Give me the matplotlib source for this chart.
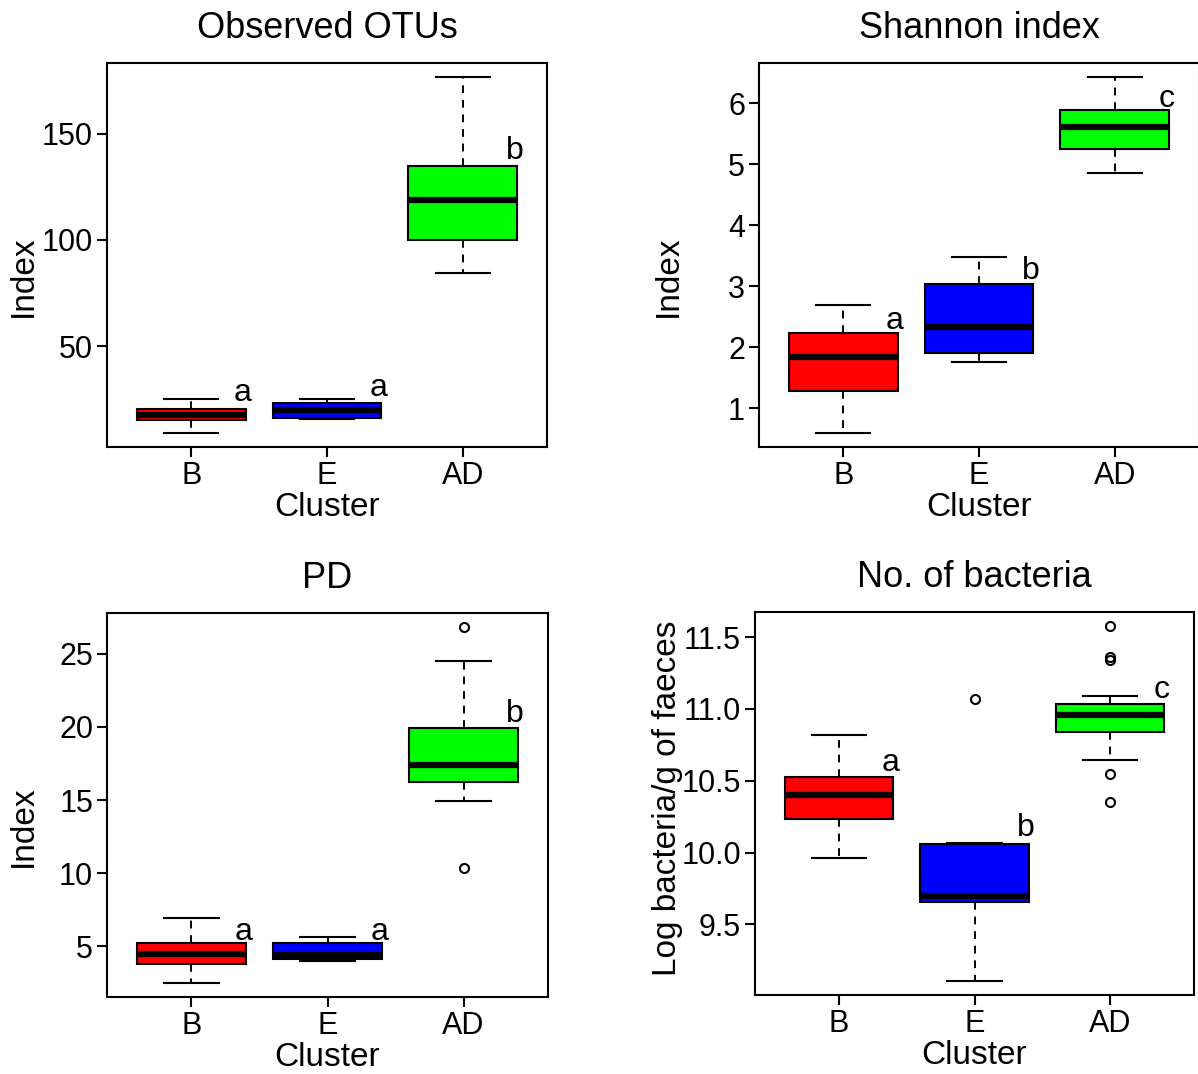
import numpy as np
import matplotlib
matplotlib.use("Agg")
import matplotlib.pyplot as plt
from matplotlib import font_manager

plt.rcParams['font.family'] = ['Liberation Sans', 'DejaVu Sans']

# letter font: narrow if we have it
names = set(f.name for f in font_manager.fontManager.ttflist)
letter_font = 'Liberation Sans Narrow' if 'Liberation Sans Narrow' in names else 'Liberation Sans'

clusters = ['B', 'E', 'AD']
colors = ['#FF0000', '#0000FF', '#00FF00']

# Observed OTUs (lo, q1, med, q3, hi per cluster)
otu_lo = [9.2, 15.5, 84.3]
otu_q1 = [15.2, 16.1, 100.0]
otu_med = [17.6, 19.9, 118.7]
otu_q3 = [20.2, 23.4, 134.8]
otu_hi = [24.9, 25.2, 176.6]
otu_fliers = [[], [], []]
otu_letters = ['a', 'a', 'b']
otu_letter_y = [27.8, 30.3, 142.0]

# Shannon index
sha_lo = [0.60, 1.76, 4.86]
sha_q1 = [1.28, 1.91, 5.26]
sha_med = [1.85, 2.34, 5.62]
sha_q3 = [2.23, 3.04, 5.89]
sha_hi = [2.70, 3.48, 6.43]
sha_fliers = [[], [], []]
sha_letters = ['a', 'b', 'c']
sha_letter_y = [2.44, 3.25, 6.08]

# PD
pd_lo = [2.52, 4.00, 14.9]
pd_q1 = [3.77, 4.11, 16.25]
pd_med = [4.50, 4.39, 17.4]
pd_q3 = [5.25, 5.25, 19.95]
pd_hi = [6.95, 5.68, 24.5]
pd_fliers = [[], [], [26.8, 10.34]]
pd_letters = ['a', 'a', 'b']
pd_letter_y = [6.0, 6.0, 20.9]

# No. of bacteria
bac_lo = [9.962, 9.107, 10.645]
bac_q1 = [10.234, 9.657, 10.842]
bac_med = [10.403, 9.700, 10.957]
bac_q3 = [10.525, 10.061, 11.036]
bac_hi = [10.819, 10.068, 11.091]
bac_fliers = [[], [11.07], [11.576, 11.361, 11.338, 10.546, 10.352]]
bac_letters = ['a', 'b', 'c']
bac_letter_y = [10.62, 10.17, 11.13]

panels = [
    dict(title='Observed OTUs', ylabel='Index', lo=otu_lo, q1=otu_q1, med=otu_med, q3=otu_q3, hi=otu_hi,
         fl=otu_fliers, let=otu_letters, ly=otu_letter_y, ticks=[50, 100, 150], fmt='%d',
         rect=[107, 63, 440, 384], ylab_x=-0.154, ylab_y=0.445),
    dict(title='Shannon index', ylabel='Index', lo=sha_lo, q1=sha_q1, med=sha_med, q3=sha_q3, hi=sha_hi,
         fl=sha_fliers, let=sha_letters, ly=sha_letter_y, ticks=[1, 2, 3, 4, 5, 6], fmt='%d',
         rect=[759, 63, 440, 384], ylab_x=-0.17, ylab_y=0.445),
    dict(title='PD', ylabel='Index', lo=pd_lo, q1=pd_q1, med=pd_med, q3=pd_q3, hi=pd_hi,
         fl=pd_fliers, let=pd_letters, ly=pd_letter_y, ticks=[5, 10, 15, 20, 25], fmt='%d',
         rect=[107, 613, 441, 384], ylab_x=-0.154, ylab_y=0.445),
    dict(title='No. of bacteria', ylabel='Log bacteria/g of faeces', lo=bac_lo, q1=bac_q1, med=bac_med,
         q3=bac_q3, hi=bac_hi, fl=bac_fliers, let=bac_letters, ly=bac_letter_y,
         ticks=[9.5, 10.0, 10.5, 11.0, 11.5], fmt='%.1f',
         rect=[755, 612, 439, 383], ylab_x=-0.165, ylab_y=0.515),
]

W, H = 1198, 1074
fig = plt.figure(figsize=(W / 100, H / 100), dpi=100)

for p in panels:
    x0, y0, w, h = p['rect']
    ax = fig.add_axes([x0 / W, 1 - (y0 + h) / H, w / W, h / H])
    stats = []
    for i in range(3):
        stats.append(dict(med=p['med'][i], q1=p['q1'][i], q3=p['q3'][i],
                          whislo=p['lo'][i], whishi=p['hi'][i], fliers=p['fl'][i]))
    bp = ax.bxp(stats, positions=[1, 2, 3], widths=0.8, capwidths=0.4, patch_artist=True,
                boxprops=dict(linewidth=1.5, edgecolor='black'),
                medianprops=dict(color='black', linewidth=4.5, solid_capstyle='butt'),
                whiskerprops=dict(color='black', linewidth=1.4, linestyle=(0, (4, 3.5))),
                capprops=dict(color='black', linewidth=1.5),
                flierprops=dict(marker='o', markerfacecolor='none', markeredgecolor='black',
                                markersize=6.5, markeredgewidth=1.5))
    for patch, c in zip(bp['boxes'], colors):
        patch.set_facecolor(c)

    # R style 4% padding
    vals = p['lo'] + p['hi'] + [v for f in p['fl'] for v in f]
    lo, hi = min(vals), max(vals)
    r = hi - lo
    ax.set_ylim(lo - 0.04 * r, hi + 0.04 * r)
    ax.set_xlim(0.38, 3.62)

    for i in range(3):
        ax.text(i + 1.38, p['ly'][i], p['let'][i], ha='center', va='center',
                fontsize=23, family=[letter_font, 'DejaVu Sans'])

    ax.set_yticks(p['ticks'])
    ax.set_yticklabels([p['fmt'] % t for t in p['ticks']])
    ax.set_xticks([1, 2, 3])
    ax.set_xticklabels(clusters)
    ax.tick_params(axis='both', labelsize=22, length=7, width=1.5, pad=3)
    for s in ax.spines.values():
        s.set_linewidth(1.5)
    ax.set_title(p['title'], fontsize=26, pad=18)
    ax.set_xlabel('Cluster', fontsize=24, labelpad=1)
    ax.set_ylabel(p['ylabel'], fontsize=24)
    ax.yaxis.set_label_coords(p['ylab_x'], p['ylab_y'])

fig.savefig('out.png', dpi=100)
